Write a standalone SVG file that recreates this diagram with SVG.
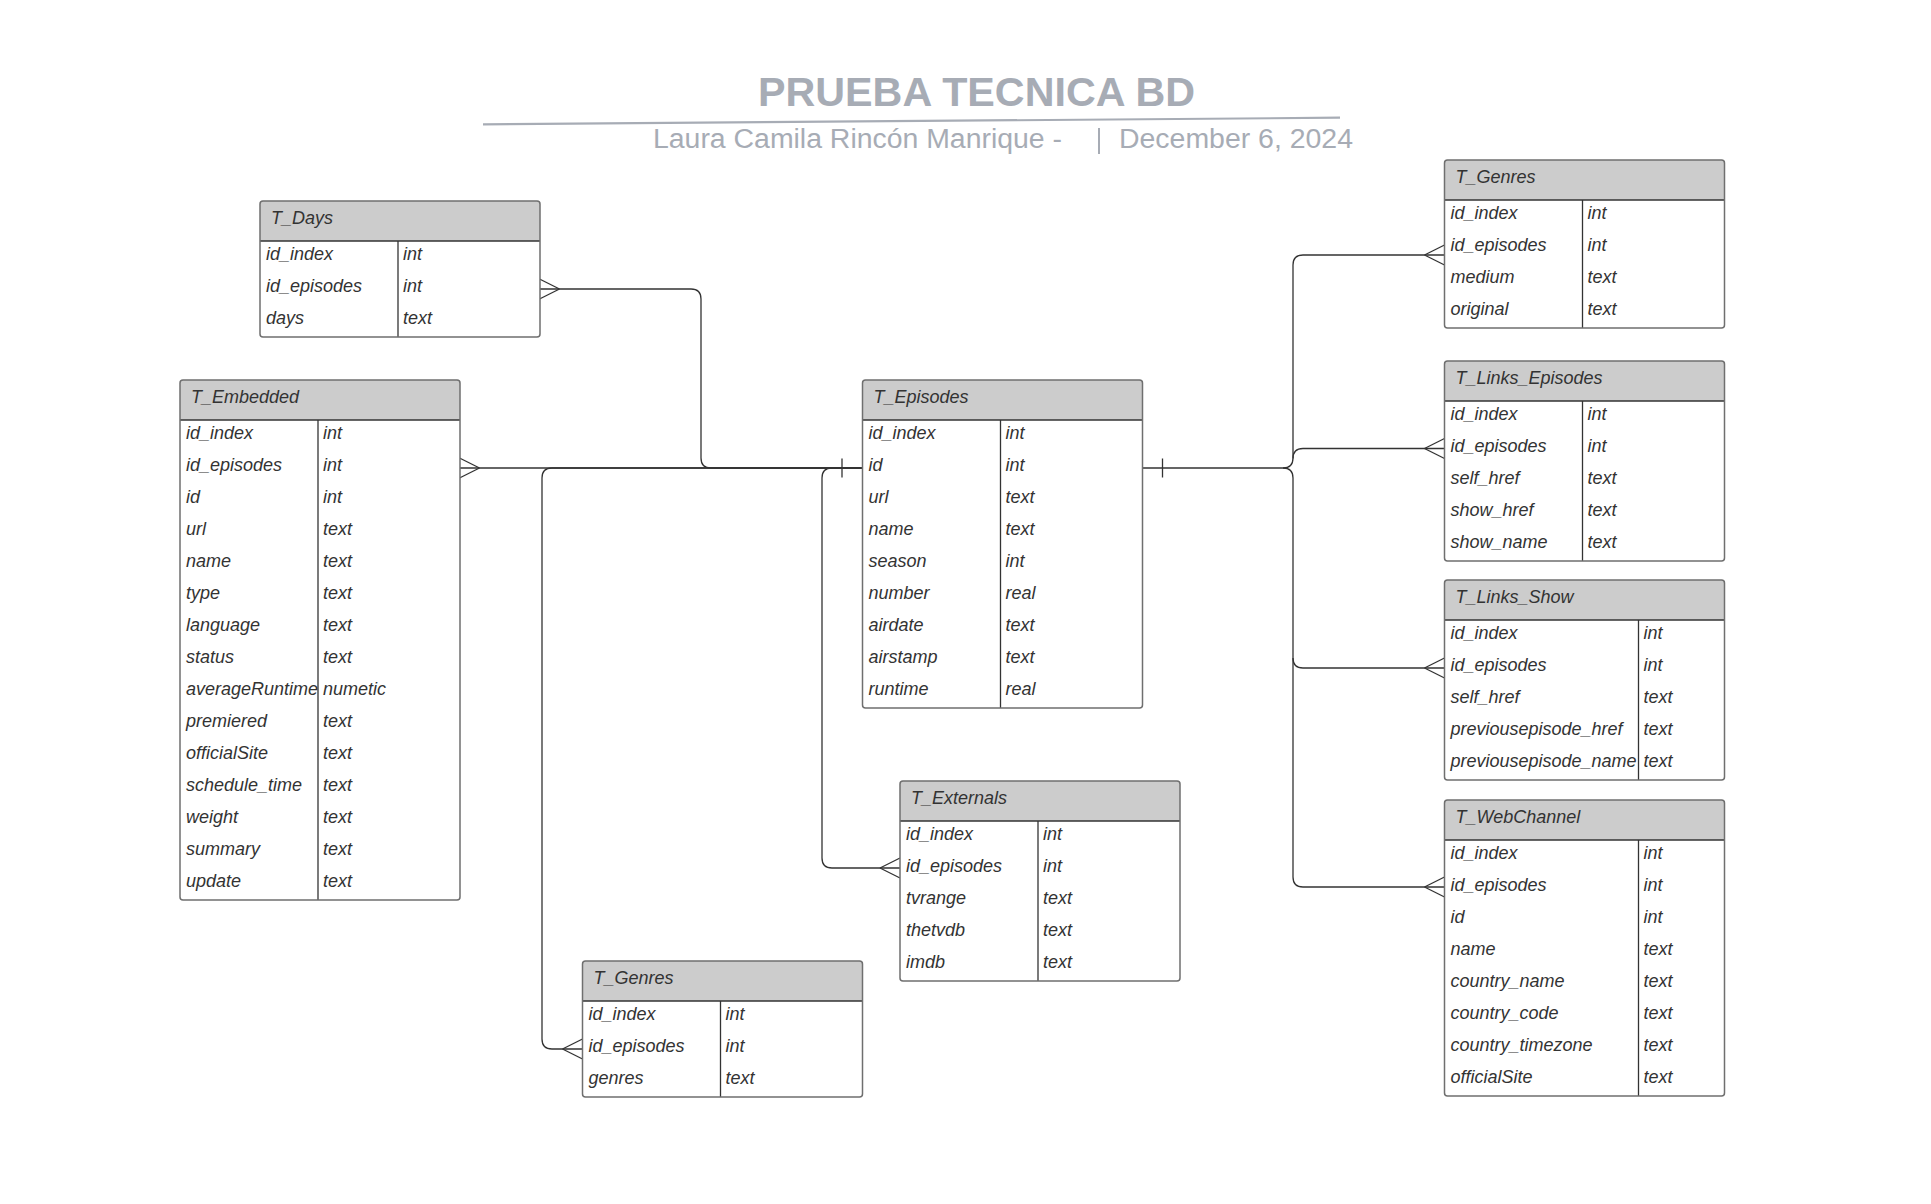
<svg xmlns="http://www.w3.org/2000/svg" xmlns:xlink="http://www.w3.org/1999/xlink" width="1931" height="1204" viewBox="0 0 1931 1204">
<style>
.bg{fill:#ffffff}
.body{fill:#ffffff;stroke:none}
.hdr{fill:#cccccc;stroke:none}
.frame{fill:none;stroke:#6f6f6f;stroke-width:1.5}
.sep{stroke:#333333;stroke-width:1.3;fill:none}
.t{font-family:"Liberation Sans",Arial,sans-serif;font-style:italic;font-size:18px;fill:#333333}
.ttl{font-family:"Liberation Sans",Arial,sans-serif;font-weight:bold;font-size:40px;fill:#a7acb5}
.sub{font-family:"Liberation Sans",Arial,sans-serif;font-size:27px;fill:#a7acb5}
.con{fill:none;stroke:#333333;stroke-width:1.3}
</style>
<defs>
<path id="crow" d="M0,0 L20,-10 M0,0 L20,10" fill="none" stroke="#333333" stroke-width="1.3"/>
</defs>
<rect class="bg" x="0" y="0" width="1931" height="1204"/>

<g id="title">
<text class="ttl" x="758" y="106" textLength="437" lengthAdjust="spacingAndGlyphs">PRUEBA TECNICA BD</text>
<line x1="483" y1="124.4" x2="1340" y2="117.7" stroke="#a7acb5" stroke-width="2.2"/>
<text class="sub" x="653" y="148" textLength="409" lengthAdjust="spacingAndGlyphs">Laura Camila Rincón Manrique -</text>
<line x1="1099" y1="128" x2="1099" y2="154" stroke="#a7acb5" stroke-width="2"/>
<text class="sub" x="1119" y="148" textLength="234" lengthAdjust="spacingAndGlyphs">December 6, 2024</text>
</g>

<g id="connectors">
<path class="con" d="M539.5,289 H691 Q701,289 701,299 V458 Q701,468 711,468 H862.5"/>
<path class="con" d="M459.5,468 H862.5"/>
<path class="con" d="M862.5,468 H552 Q542,468 542,478 V1039 Q542,1049 552,1049 H582.5"/>
<path class="con" d="M862.5,468 H832 Q822,468 822,478 V858 Q822,868 832,868 H900"/>
<path class="con" d="M1142.5,468 H1283 Q1293,468 1293,458 V265 Q1293,255 1303,255 H1444.5"/>
<path class="con" d="M1293,458.5 Q1293,448.5 1303,448.5 H1444.5"/>
<path class="con" d="M1283,468 Q1293,468 1293,478 V877 Q1293,887 1303,887 H1444.5"/>
<path class="con" d="M1293,658 Q1293,668 1303,668 H1444.5"/>
<line class="con" x1="842" y1="458.5" x2="842" y2="477.5"/>
<line class="con" x1="1162.5" y1="458.5" x2="1162.5" y2="477.5"/>
<use xlink:href="#crow" href="#crow" transform="translate(559.5,289) scale(-1,1)"/>
<use xlink:href="#crow" href="#crow" transform="translate(479.5,468) scale(-1,1)"/>
<use xlink:href="#crow" href="#crow" transform="translate(562.5,1049)"/>
<use xlink:href="#crow" href="#crow" transform="translate(880,868)"/>
<use xlink:href="#crow" href="#crow" transform="translate(1424.5,255)"/>
<use xlink:href="#crow" href="#crow" transform="translate(1424.5,448.5)"/>
<use xlink:href="#crow" href="#crow" transform="translate(1424.5,668)"/>
<use xlink:href="#crow" href="#crow" transform="translate(1424.5,887)"/>
</g>

<g id="T_Days">
<rect class="body" x="260" y="201" width="280" height="136" rx="3"/>
<path class="hdr" d="M260,241 V204 Q260,201 263,201 H537 Q540,201 540,204 V241 Z"/>
<line class="sep" x1="260" y1="241" x2="540" y2="241"/>
<line class="sep" x1="398" y1="241" x2="398" y2="337"/>
<rect class="frame" x="260" y="201" width="280" height="136" rx="3"/>
<text class="t" x="271" y="224">T_Days</text>
<text class="t" x="266" y="260">id_index</text><text class="t" x="403" y="260">int</text>
<text class="t" x="266" y="292">id_episodes</text><text class="t" x="403" y="292">int</text>
<text class="t" x="266" y="324">days</text><text class="t" x="403" y="324">text</text>
</g>

<g id="T_Embedded">
<rect class="body" x="180" y="380" width="280" height="520" rx="3"/>
<path class="hdr" d="M180,420 V383 Q180,380 183,380 H457 Q460,380 460,383 V420 Z"/>
<line class="sep" x1="180" y1="420" x2="460" y2="420"/>
<line class="sep" x1="318" y1="420" x2="318" y2="900"/>
<rect class="frame" x="180" y="380" width="280" height="520" rx="3"/>
<text class="t" x="191" y="403">T_Embedded</text>
<text class="t" x="186" y="439">id_index</text><text class="t" x="323" y="439">int</text>
<text class="t" x="186" y="471">id_episodes</text><text class="t" x="323" y="471">int</text>
<text class="t" x="186" y="503">id</text><text class="t" x="323" y="503">int</text>
<text class="t" x="186" y="535">url</text><text class="t" x="323" y="535">text</text>
<text class="t" x="186" y="567">name</text><text class="t" x="323" y="567">text</text>
<text class="t" x="186" y="599">type</text><text class="t" x="323" y="599">text</text>
<text class="t" x="186" y="631">language</text><text class="t" x="323" y="631">text</text>
<text class="t" x="186" y="663">status</text><text class="t" x="323" y="663">text</text>
<text class="t" x="186" y="695">averageRuntime</text><text class="t" x="323" y="695">numetic</text>
<text class="t" x="186" y="727">premiered</text><text class="t" x="323" y="727">text</text>
<text class="t" x="186" y="759">officialSite</text><text class="t" x="323" y="759">text</text>
<text class="t" x="186" y="791">schedule_time</text><text class="t" x="323" y="791">text</text>
<text class="t" x="186" y="823">weight</text><text class="t" x="323" y="823">text</text>
<text class="t" x="186" y="855">summary</text><text class="t" x="323" y="855">text</text>
<text class="t" x="186" y="887">update</text><text class="t" x="323" y="887">text</text>
</g>

<g id="T_Episodes">
<rect class="body" x="862.5" y="380" width="280" height="328" rx="3"/>
<path class="hdr" d="M862.5,420 V383 Q862.5,380 865.5,380 H1139.5 Q1142.5,380 1142.5,383 V420 Z"/>
<line class="sep" x1="862.5" y1="420" x2="1142.5" y2="420"/>
<line class="sep" x1="1000.5" y1="420" x2="1000.5" y2="708"/>
<rect class="frame" x="862.5" y="380" width="280" height="328" rx="3"/>
<text class="t" x="873.5" y="403">T_Episodes</text>
<text class="t" x="868.5" y="439">id_index</text><text class="t" x="1005.5" y="439">int</text>
<text class="t" x="868.5" y="471">id</text><text class="t" x="1005.5" y="471">int</text>
<text class="t" x="868.5" y="503">url</text><text class="t" x="1005.5" y="503">text</text>
<text class="t" x="868.5" y="535">name</text><text class="t" x="1005.5" y="535">text</text>
<text class="t" x="868.5" y="567">season</text><text class="t" x="1005.5" y="567">int</text>
<text class="t" x="868.5" y="599">number</text><text class="t" x="1005.5" y="599">real</text>
<text class="t" x="868.5" y="631">airdate</text><text class="t" x="1005.5" y="631">text</text>
<text class="t" x="868.5" y="663">airstamp</text><text class="t" x="1005.5" y="663">text</text>
<text class="t" x="868.5" y="695">runtime</text><text class="t" x="1005.5" y="695">real</text>
</g>

<g id="T_Externals">
<rect class="body" x="900" y="781" width="280" height="200" rx="3"/>
<path class="hdr" d="M900,821 V784 Q900,781 903,781 H1177 Q1180,781 1180,784 V821 Z"/>
<line class="sep" x1="900" y1="821" x2="1180" y2="821"/>
<line class="sep" x1="1038" y1="821" x2="1038" y2="981"/>
<rect class="frame" x="900" y="781" width="280" height="200" rx="3"/>
<text class="t" x="911" y="804">T_Externals</text>
<text class="t" x="906" y="840">id_index</text><text class="t" x="1043" y="840">int</text>
<text class="t" x="906" y="872">id_episodes</text><text class="t" x="1043" y="872">int</text>
<text class="t" x="906" y="904">tvrange</text><text class="t" x="1043" y="904">text</text>
<text class="t" x="906" y="936">thetvdb</text><text class="t" x="1043" y="936">text</text>
<text class="t" x="906" y="968">imdb</text><text class="t" x="1043" y="968">text</text>
</g>

<g id="T_Genres_bottom">
<rect class="body" x="582.5" y="961" width="280" height="136" rx="3"/>
<path class="hdr" d="M582.5,1001 V964 Q582.5,961 585.5,961 H859.5 Q862.5,961 862.5,964 V1001 Z"/>
<line class="sep" x1="582.5" y1="1001" x2="862.5" y2="1001"/>
<line class="sep" x1="720.5" y1="1001" x2="720.5" y2="1097"/>
<rect class="frame" x="582.5" y="961" width="280" height="136" rx="3"/>
<text class="t" x="593.5" y="984">T_Genres</text>
<text class="t" x="588.5" y="1020">id_index</text><text class="t" x="725.5" y="1020">int</text>
<text class="t" x="588.5" y="1052">id_episodes</text><text class="t" x="725.5" y="1052">int</text>
<text class="t" x="588.5" y="1084">genres</text><text class="t" x="725.5" y="1084">text</text>
</g>

<g id="T_Genres_right">
<rect class="body" x="1444.5" y="160" width="280" height="168" rx="3"/>
<path class="hdr" d="M1444.5,200 V163 Q1444.5,160 1447.5,160 H1721.5 Q1724.5,160 1724.5,163 V200 Z"/>
<line class="sep" x1="1444.5" y1="200" x2="1724.5" y2="200"/>
<line class="sep" x1="1582.5" y1="200" x2="1582.5" y2="328"/>
<rect class="frame" x="1444.5" y="160" width="280" height="168" rx="3"/>
<text class="t" x="1455.5" y="183">T_Genres</text>
<text class="t" x="1450.5" y="219">id_index</text><text class="t" x="1587.5" y="219">int</text>
<text class="t" x="1450.5" y="251">id_episodes</text><text class="t" x="1587.5" y="251">int</text>
<text class="t" x="1450.5" y="283">medium</text><text class="t" x="1587.5" y="283">text</text>
<text class="t" x="1450.5" y="315">original</text><text class="t" x="1587.5" y="315">text</text>
</g>

<g id="T_Links_Episodes">
<rect class="body" x="1444.5" y="361" width="280" height="200" rx="3"/>
<path class="hdr" d="M1444.5,401 V364 Q1444.5,361 1447.5,361 H1721.5 Q1724.5,361 1724.5,364 V401 Z"/>
<line class="sep" x1="1444.5" y1="401" x2="1724.5" y2="401"/>
<line class="sep" x1="1582.5" y1="401" x2="1582.5" y2="561"/>
<rect class="frame" x="1444.5" y="361" width="280" height="200" rx="3"/>
<text class="t" x="1455.5" y="384">T_Links_Episodes</text>
<text class="t" x="1450.5" y="420">id_index</text><text class="t" x="1587.5" y="420">int</text>
<text class="t" x="1450.5" y="452">id_episodes</text><text class="t" x="1587.5" y="452">int</text>
<text class="t" x="1450.5" y="484">self_href</text><text class="t" x="1587.5" y="484">text</text>
<text class="t" x="1450.5" y="516">show_href</text><text class="t" x="1587.5" y="516">text</text>
<text class="t" x="1450.5" y="548">show_name</text><text class="t" x="1587.5" y="548">text</text>
</g>

<g id="T_Links_Show">
<rect class="body" x="1444.5" y="580" width="280" height="200" rx="3"/>
<path class="hdr" d="M1444.5,620 V583 Q1444.5,580 1447.5,580 H1721.5 Q1724.5,580 1724.5,583 V620 Z"/>
<line class="sep" x1="1444.5" y1="620" x2="1724.5" y2="620"/>
<line class="sep" x1="1638.5" y1="620" x2="1638.5" y2="780"/>
<rect class="frame" x="1444.5" y="580" width="280" height="200" rx="3"/>
<text class="t" x="1455.5" y="603">T_Links_Show</text>
<text class="t" x="1450.5" y="639">id_index</text><text class="t" x="1643.5" y="639">int</text>
<text class="t" x="1450.5" y="671">id_episodes</text><text class="t" x="1643.5" y="671">int</text>
<text class="t" x="1450.5" y="703">self_href</text><text class="t" x="1643.5" y="703">text</text>
<text class="t" x="1450.5" y="735">previousepisode_href</text><text class="t" x="1643.5" y="735">text</text>
<text class="t" x="1450.5" y="767">previousepisode_name</text><text class="t" x="1643.5" y="767">text</text>
</g>

<g id="T_WebChannel">
<rect class="body" x="1444.5" y="800" width="280" height="296" rx="3"/>
<path class="hdr" d="M1444.5,840 V803 Q1444.5,800 1447.5,800 H1721.5 Q1724.5,800 1724.5,803 V840 Z"/>
<line class="sep" x1="1444.5" y1="840" x2="1724.5" y2="840"/>
<line class="sep" x1="1638.5" y1="840" x2="1638.5" y2="1096"/>
<rect class="frame" x="1444.5" y="800" width="280" height="296" rx="3"/>
<text class="t" x="1455.5" y="823">T_WebChannel</text>
<text class="t" x="1450.5" y="859">id_index</text><text class="t" x="1643.5" y="859">int</text>
<text class="t" x="1450.5" y="891">id_episodes</text><text class="t" x="1643.5" y="891">int</text>
<text class="t" x="1450.5" y="923">id</text><text class="t" x="1643.5" y="923">int</text>
<text class="t" x="1450.5" y="955">name</text><text class="t" x="1643.5" y="955">text</text>
<text class="t" x="1450.5" y="987">country_name</text><text class="t" x="1643.5" y="987">text</text>
<text class="t" x="1450.5" y="1019">country_code</text><text class="t" x="1643.5" y="1019">text</text>
<text class="t" x="1450.5" y="1051">country_timezone</text><text class="t" x="1643.5" y="1051">text</text>
<text class="t" x="1450.5" y="1083">officialSite</text><text class="t" x="1643.5" y="1083">text</text>
</g>
</svg>
